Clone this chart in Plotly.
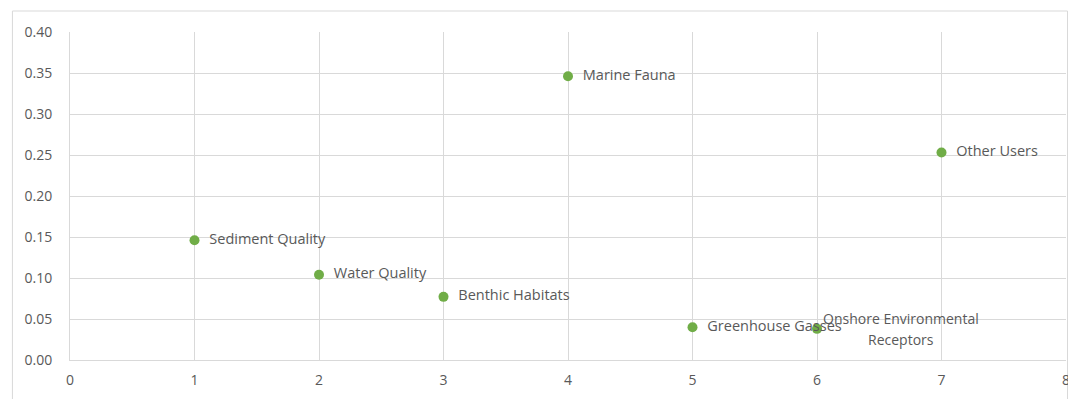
import plotly.graph_objects as go

# Impact categories and their scores
categories = ["Sediment Quality", "Water Quality", "Benthic Habitats", "Marine Fauna",
              "Greenhouse Gasses", "Onshore Environmental Receptors", "Other Users"]
x_values = [1, 2, 3, 4, 5, 6, 7]
y_values = [0.146, 0.104, 0.077, 0.346, 0.040, 0.038, 0.253]
x_ticks = [0, 1, 2, 3, 4, 5, 6, 7, 8]
y_ticks = [0.00, 0.05, 0.10, 0.15, 0.20, 0.25, 0.30, 0.35, 0.40]

FONT = "Open Sans"
TEXT = "#595959"
GRID = "#d9d9d9"
LABEL_SIZE = 14.5

# Onshore label is wrapped onto two lines, drawn as separate annotations
point_text = ["  " + c if i != 5 else "" for i, c in enumerate(categories)]
wrapped = ["Onshore Environmental", "Receptors"]
line_shift = [10, -11]

fig = go.Figure()
fig.add_trace(go.Scatter(
    x=x_values, y=y_values, mode="markers+text",
    text=point_text, textposition="middle right",
    textfont=dict(family=FONT, size=LABEL_SIZE, color=TEXT),
    marker=dict(color="#70ad47", size=10),
    hoverinfo="x+y", showlegend=False, cliponaxis=False,
))

for line, dy in zip(wrapped, line_shift):
    fig.add_annotation(
        x=x_values[5], y=y_values[5], xref="x", yref="y",
        text=line, showarrow=False,
        xanchor="center", yanchor="middle", xshift=84, yshift=dy,
        font=dict(family=FONT, size=14, color=TEXT),
    )

# Chart frame
fig.add_shape(type="rect", xref="paper", yref="paper",
              x0=-0.0578, x1=1.0015, y0=-0.2, y1=1.064,
              line=dict(color=GRID, width=1), layer="below")

fig.update_xaxes(range=[0, 8], tickvals=x_ticks, ticktext=[str(v) for v in x_ticks],
                 showgrid=True, gridcolor=GRID, gridwidth=1, zeroline=False,
                 showline=True, linecolor=GRID, mirror=False, ticks="",
                 ticklabeloverflow="allow", automargin=False,
                 tickfont=dict(family=FONT, size=14, color=TEXT), ticklabelstandoff=7)
fig.update_yaxes(range=[0, 0.4], tickvals=y_ticks, ticktext=[f"{v:.2f}" for v in y_ticks],
                 showgrid=True, gridcolor=GRID, gridwidth=1, zeroline=False,
                 showline=True, linecolor=GRID, ticks="", automargin=False,
                 tickfont=dict(family=FONT, size=14, color=TEXT), ticklabelstandoff=14)

fig.update_layout(
    width=1068, height=399,
    margin=dict(l=70, r=2, t=32, b=39),
    paper_bgcolor="white", plot_bgcolor="white",
)

fig.write_html("out.html")
